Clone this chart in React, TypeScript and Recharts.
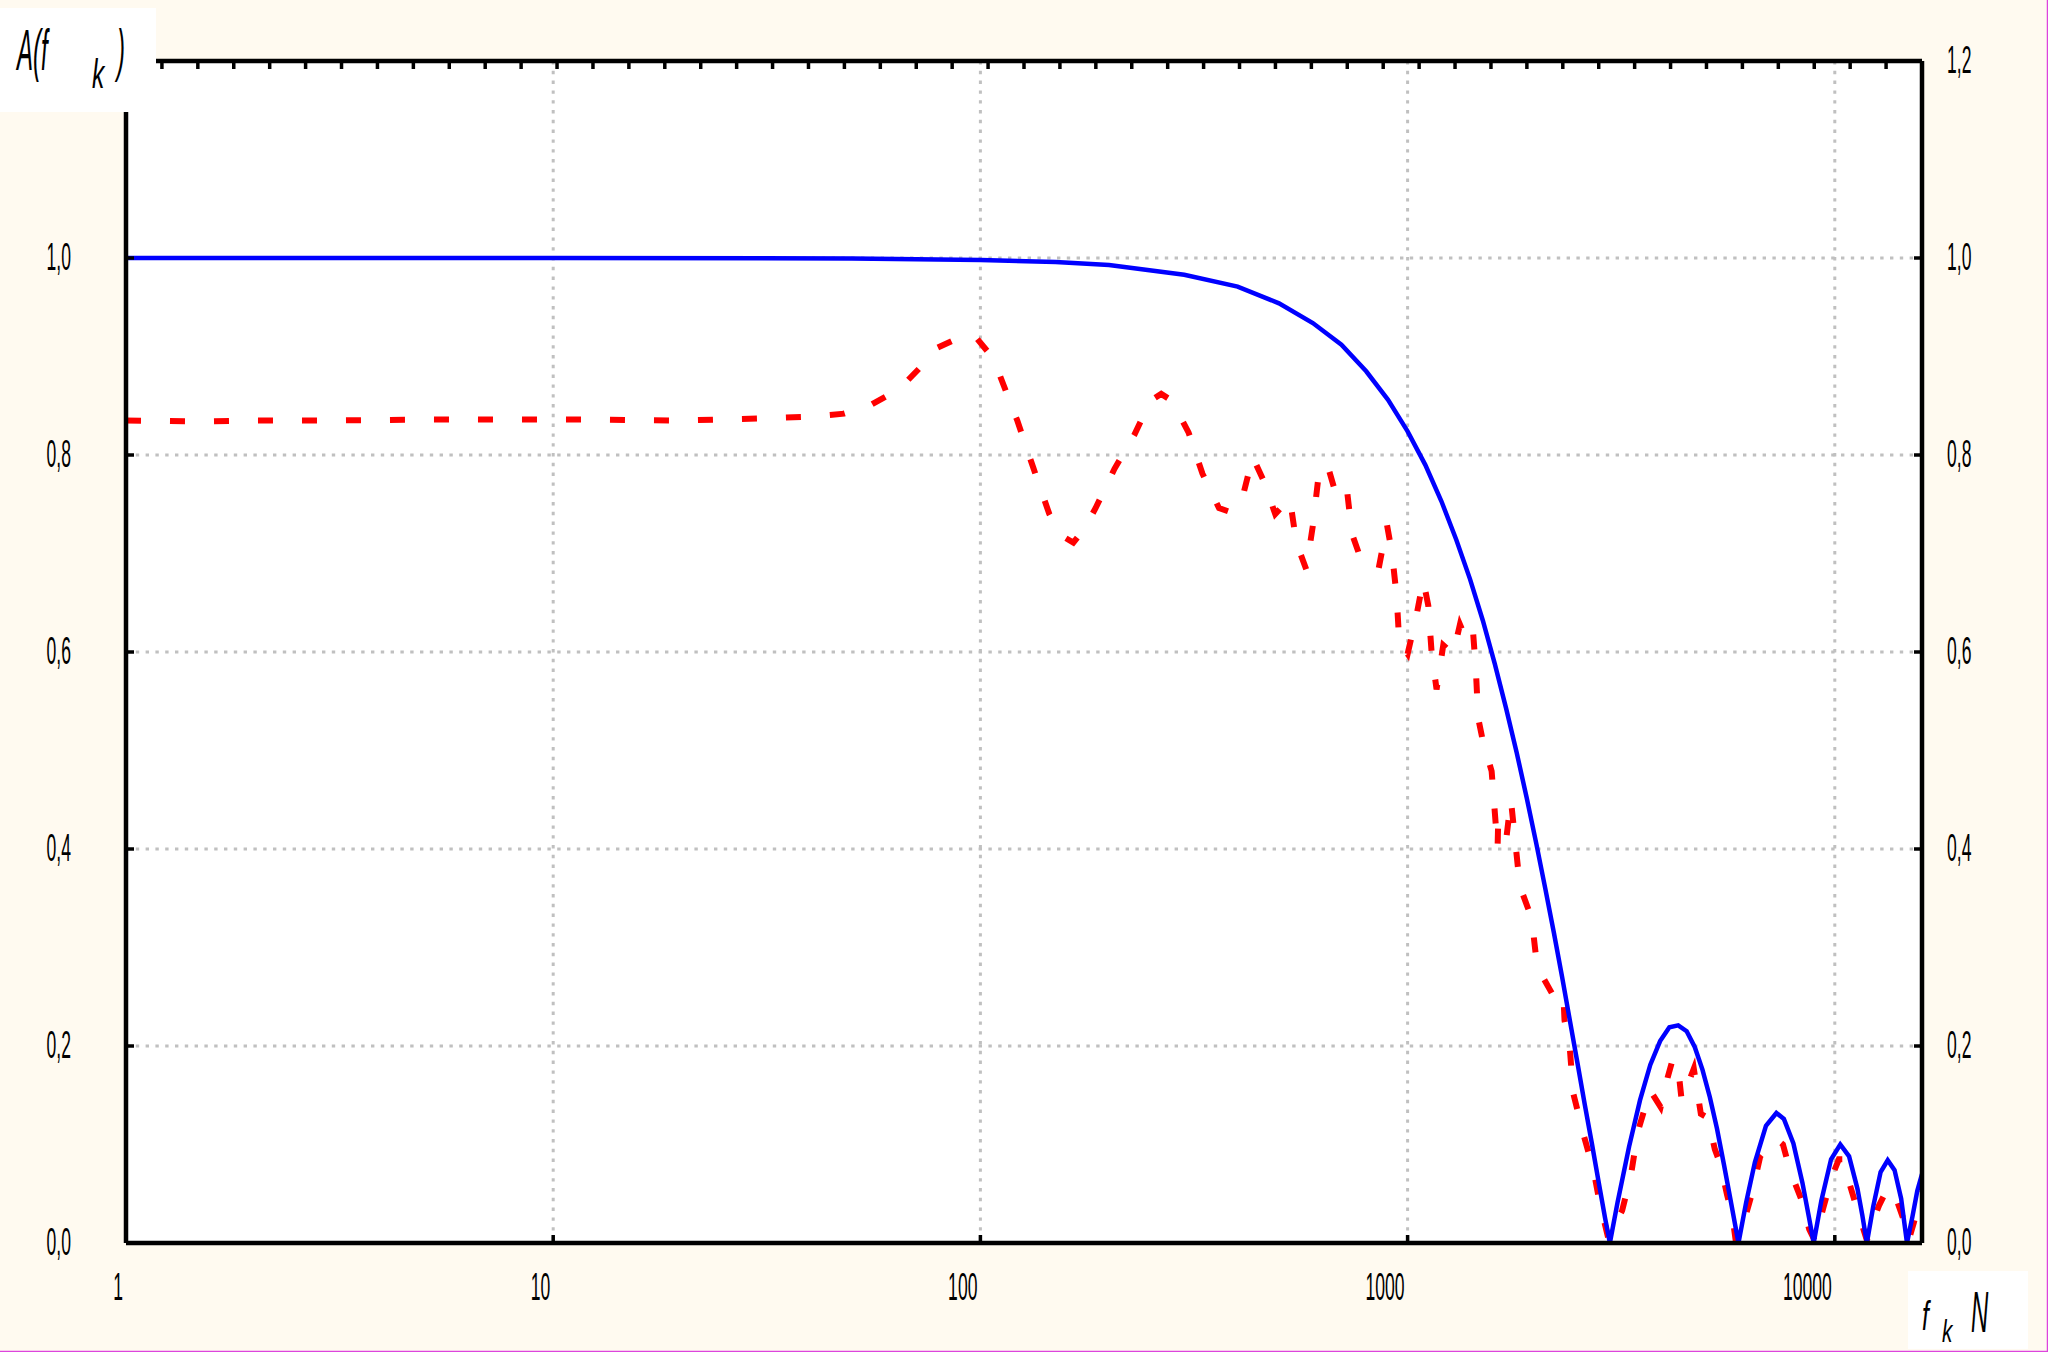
import React from 'react';
import { LineChart, Line, XAxis, YAxis, CartesianGrid } from 'recharts';

// ---- tick values / labels ----
const xTicks = [1, 10, 100, 1000, 10000];
const xTickLabels = ['1', '10', '100', '1000', '10000'];
const yTicks = [0, 0.2, 0.4, 0.6, 0.8, 1.0, 1.2];
const yTickLabels = ['0,0', '0,2', '0,4', '0,6', '0,8', '1,0', '1,2'];
// top frame edge: 50 equal divisions
const topMinorTicks = [
  0, 1, 2, 3, 4, 5, 6, 7, 8, 9, 10, 11, 12, 13, 14, 15, 16, 17, 18, 19, 20, 21, 22, 23, 24, 25,
  26, 27, 28, 29, 30, 31, 32, 33, 34, 35, 36, 37, 38, 39, 40, 41, 42, 43, 44, 45, 46, 47, 48, 49, 50,
];
const topRange = [0, 50];

// ---- axis titles ----
const yTitleMain = 'A(f';
const yTitleSub = 'k';
const yTitleClose = ')';
const xTitleMain = 'f';
const xTitleSub = 'k';
const xTitleUnit = 'N';

// ---- blue series (solid) ----
const blueFreq = [
  1, 10, 50, 100, 150, 200,
  300, 400, 500, 600, 700, 800, 900, 1000,
  1100, 1200, 1300, 1400, 1500, 1600, 1700, 1800, 1900, 2000, 2100, 2200, 2300, 2400, 2500, 2600, 2700, 2800, 2900,
  2975,
  3100, 3300, 3500, 3700, 3900, 4100, 4300, 4500, 4700, 4900, 5100, 5300, 5500, 5700,
  5950,
  6200, 6500, 6900, 7300, 7600, 8000, 8400, 8700,
  8925,
  9300, 9800, 10300, 10800, 11300, 11600,
  11886,
  12300, 12800, 13300, 13800, 14300,
  14757,
  15200, 15600, 16000,
];
const blueAmp = [
  1.0, 1.0, 0.9995, 0.998, 0.996, 0.993,
  0.983, 0.971, 0.954, 0.934, 0.912, 0.885, 0.856, 0.824,
  0.79, 0.753, 0.714, 0.674, 0.632, 0.588, 0.543, 0.498, 0.452, 0.406, 0.36, 0.315, 0.27, 0.225, 0.182, 0.14, 0.101, 0.062, 0.025,
  0.0,
  0.041, 0.098, 0.145, 0.181, 0.205, 0.219, 0.221, 0.215, 0.199, 0.176, 0.148, 0.116, 0.08, 0.044,
  0.0,
  0.041, 0.082, 0.119, 0.132, 0.126, 0.101, 0.061, 0.026,
  0.0,
  0.043, 0.085, 0.1, 0.088, 0.055, 0.028,
  0.0,
  0.037, 0.072, 0.084, 0.074, 0.045,
  0.0,
  0.027, 0.053, 0.07,
];

// ---- red series (dashed, noisy) ----
const redFreq = [
  1, 1.5, 2, 3, 5, 8, 12, 20, 30, 40,
  48, 55, 64.6, 72, 78.5, 88, 96.5, 104, 111, 122,
  133, 145, 155, 165, 175, 186, 206, 229, 250, 265,
  281, 307, 331, 362, 385, 408, 434, 460, 490, 530,
  549, 579, 600, 617, 648, 683, 721, 741, 775, 815,
  855, 895, 919, 943, 956, 1000, 1050, 1088, 1118, 1138,
  1169, 1212, 1279, 1326, 1362, 1420, 1445, 1463, 1503, 1573,
  1624, 1630, 1705, 1745, 1783, 1832, 1951, 2000, 2060, 2200,
  2314, 2330, 2397, 2442, 2585, 2724, 2813, 2949, 3179, 3333,
  3459, 3695, 3911, 4062, 4177, 4298, 4380, 4546, 4677, 4858,
  5044, 5239, 5387, 5595, 5754, 5864, 6151, 6385, 6691, 6949,
  7281, 7561, 7852, 8386, 8710, 8961, 9391, 9840, 10220, 10513,
  10813, 11337, 11884, 12340, 12690, 13305, 13820, 14485, 14900, 15320,
  15760, 16000,
];
const redAmp = [
  0.835, 0.834, 0.835, 0.835, 0.836, 0.836, 0.836, 0.835, 0.837, 0.839,
  0.842, 0.85, 0.867, 0.888, 0.908, 0.918, 0.922, 0.905, 0.881, 0.835,
  0.787, 0.74, 0.718, 0.711, 0.725, 0.746, 0.786, 0.82, 0.855, 0.862,
  0.855, 0.823, 0.781, 0.746, 0.742, 0.752, 0.798, 0.774, 0.74, 0.756,
  0.711, 0.684, 0.728, 0.774, 0.791, 0.757, 0.765, 0.72, 0.696, 0.69,
  0.684, 0.729, 0.701, 0.656, 0.61, 0.598, 0.638, 0.673, 0.647, 0.6,
  0.562, 0.607, 0.598, 0.628, 0.616, 0.626, 0.581, 0.533, 0.508, 0.479,
  0.401, 0.43, 0.413, 0.45, 0.411, 0.362, 0.33, 0.289, 0.272, 0.25,
  0.254, 0.226, 0.198, 0.152, 0.109, 0.074, 0.042, 0.005, 0.033, 0.069,
  0.113, 0.155, 0.138, 0.168, 0.187, 0.178, 0.145, 0.163, 0.177, 0.131,
  0.127, 0.095, 0.081, 0.049, 0.028, 0.002, 0.024, 0.049, 0.088, 0.097,
  0.106, 0.1, 0.074, 0.042, 0.014, 0.003, 0.035, 0.067, 0.085, 0.085,
  0.061, 0.031, 0.003, 0.024, 0.038, 0.056, 0.049, 0.024, 0.003, 0.021,
  0.045, 0.052,
];

const blueData = blueFreq.map((f, i) => ({ f, v: blueAmp[i] }));
const redData = redFreq.map((f, i) => ({ f, v: redAmp[i] }));
// invisible carrier so the top frame axis gets its [0,50] domain
const topAxisData = topRange.map((t) => ({ t, v: 0 }));

const FONT = "'Liberation Sans', Arial, sans-serif";
const TICK_FS = 39;
const TICK_SX = 0.45;

const XTick = (props: any) => {
  const { x, y, payload } = props;
  const idx = xTicks.indexOf(payload.value);
  return (
    <text
      transform={`translate(${x - 3},${y}) scale(${TICK_SX},1)`}
      textAnchor="end"
      fontSize={TICK_FS}
      fontFamily={FONT}
      fill="#000"
    >
      {idx >= 0 ? xTickLabels[idx] : ''}
    </text>
  );
};

const YTickLeft = (props: any) => {
  const { x, y, payload } = props;
  const idx = yTicks.indexOf(payload.value);
  return (
    <text
      transform={`translate(${x},${y + 12}) scale(${TICK_SX},1)`}
      textAnchor="end"
      fontSize={TICK_FS}
      fontFamily={FONT}
      fill="#000"
    >
      {idx >= 0 ? yTickLabels[idx] : ''}
    </text>
  );
};

const YTickRight = (props: any) => {
  const { x, y, payload } = props;
  const idx = yTicks.indexOf(payload.value);
  return (
    <text
      transform={`translate(${x},${y + 12}) scale(${TICK_SX},1)`}
      textAnchor="start"
      fontSize={TICK_FS}
      fontFamily={FONT}
      fill="#000"
    >
      {idx >= 0 ? yTickLabels[idx] : ''}
    </text>
  );
};

const EmptyTick = () => <g />;

const axisLineStyle = { stroke: '#000', strokeWidth: 4.5 };
const tickLineStyle = { stroke: '#000', strokeWidth: 3.5 };

export default function App() {
  return (
    <div
      style={{
        position: 'absolute',
        left: 0,
        top: 0,
        width: 2048,
        height: 1352,
        background: '#FFFAF0',
        overflow: 'hidden',
      }}
    >
      <LineChart width={2048} height={1352} margin={{ top: 61, right: 0, bottom: 0, left: 0 }}>
        <CartesianGrid
          xAxisId={0}
          yAxisId={0}
          fill="#ffffff"
          stroke="#c0c0c0"
          strokeWidth={3}
          strokeDasharray="3.4 6.4"
        />
        <Line
          data={topAxisData}
          dataKey="v"
          xAxisId="top"
          yAxisId={0}
          type="linear"
          stroke="none"
          strokeWidth={0}
          dot={false}
          activeDot={false}
          isAnimationActive={false}
        />
        <Line
          data={redData}
          dataKey="v"
          xAxisId={0}
          yAxisId={0}
          type="linear"
          stroke="#ff0000"
          strokeWidth={6}
          strokeDasharray="15 29"
          dot={false}
          activeDot={false}
          isAnimationActive={false}
        />
        <Line
          data={blueData}
          dataKey="v"
          xAxisId={0}
          yAxisId={0}
          type="linear"
          stroke="#0000ff"
          strokeWidth={4.5}
          dot={false}
          activeDot={false}
          isAnimationActive={false}
        />
        <XAxis
          xAxisId={0}
          dataKey="f"
          type="number"
          scale="log"
          domain={[1, 16000]}
          allowDataOverflow
          ticks={xTicks}
          interval={0}
          height={109}
          axisLine={axisLineStyle}
          tickLine={tickLineStyle}
          tickSize={-8}
          tickMargin={65}
          tick={(p: any) => <XTick {...p} />}
        />
        <XAxis
          xAxisId="top"
          dataKey="t"
          orientation="top"
          type="number"
          domain={[0, 50]}
          allowDataOverflow
          ticks={topMinorTicks}
          interval={0}
          mirror
          axisLine={axisLineStyle}
          tickLine={tickLineStyle}
          tickSize={8}
          tick={(p: any) => <EmptyTick {...p} />}
        />
        <YAxis
          yAxisId={0}
          type="number"
          domain={[0, 1.2]}
          allowDataOverflow
          ticks={yTicks}
          interval={0}
          width={126}
          axisLine={axisLineStyle}
          tickLine={tickLineStyle}
          tickSize={-8}
          tickMargin={63}
          tick={(p: any) => <YTickLeft {...p} />}
        />
        <YAxis
          yAxisId="right"
          orientation="right"
          type="number"
          domain={[0, 1.2]}
          allowDataOverflow
          ticks={yTicks}
          interval={0}
          width={126}
          axisLine={axisLineStyle}
          tickLine={tickLineStyle}
          tickSize={-8}
          tickMargin={33}
          tick={(p: any) => <YTickRight {...p} />}
        />
      </LineChart>
      <svg
        width={2048}
        height={1352}
        style={{ position: 'absolute', left: 0, top: 0, pointerEvents: 'none' }}
      >
        {/* Y axis title box */}
        <rect x={0} y={8} width={156} height={104} fill="#ffffff" />
        <text
          transform="translate(17,70) scale(0.42,1)"
          fontSize={57}
          fontStyle="italic"
          fontFamily={FONT}
          fill="#000"
        >
          {yTitleMain}
        </text>
        <text
          transform="translate(92,88) scale(0.6,1)"
          fontSize={41}
          fontStyle="italic"
          fontFamily={FONT}
          fill="#000"
        >
          {yTitleSub}
        </text>
        <text
          transform="translate(117,70) scale(0.42,1)"
          fontSize={57}
          fontStyle="italic"
          fontFamily={FONT}
          fill="#000"
        >
          {yTitleClose}
        </text>
        {/* X axis title box */}
        <rect x={1908} y={1271} width={120} height={78} fill="#ffffff" />
        <text
          transform="translate(1922,1330) scale(0.6,1)"
          fontSize={41}
          fontStyle="italic"
          fontFamily={FONT}
          fill="#000"
        >
          {xTitleMain}
        </text>
        <text
          transform="translate(1942,1342) scale(0.65,1)"
          fontSize={32}
          fontStyle="italic"
          fontFamily={FONT}
          fill="#000"
        >
          {xTitleSub}
        </text>
        <text
          transform="translate(1971,1332) scale(0.42,1)"
          fontSize={57}
          fontStyle="italic"
          fontFamily={FONT}
          fill="#000"
        >
          {xTitleUnit}
        </text>
        {/* magenta frame edges */}
        <line x1={2047.5} y1={0} x2={2047.5} y2={1352} stroke="#dd44dd" strokeWidth={1.5} />
        <line x1={0} y1={1351.5} x2={2048} y2={1351.5} stroke="#dd44dd" strokeWidth={1.5} />
      </svg>
    </div>
  );
}
